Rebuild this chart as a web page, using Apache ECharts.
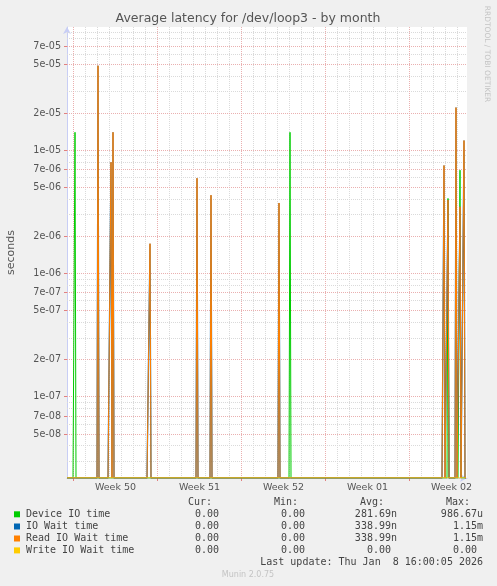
<!DOCTYPE html>
<html>
<head>
<meta charset="utf-8">
<script src="https://cdn.jsdelivr.net/npm/echarts@6/dist/echarts.min.js"></script>
<style>
  html, body { margin: 0; padding: 0; background: #f0f0f0; }
  #chart { width: 497px; height: 586px; }
</style>
</head>
<body>
<div id="chart"></div>
<script>
// ---- data (x = 2-hour sample index across the month window) ----
const SAMPLE_COUNT = 400;
const Y_MIN = 2.2e-8;   // bottom of the log axis; zero samples are drawn here (as rrdtool does)
const Y_MAX = 1e-4;

const deviceIoTime   = [[8, 1.4e-5], [223, 1.4e-5], [381, 4.07e-6], [393, 6.9e-6]];
const ioWaitTime     = [[31, 4.85e-5], [44, 8.0e-6], [46, 1.4e-5], [83, 1.75e-6], [130, 5.94e-6],
                        [144, 4.33e-6], [212, 3.74e-6], [377, 7.53e-6], [381, 3.95e-6],
                        [389, 2.22e-5], [393, 3.49e-6], [397, 1.2e-5]];
const readIoWaitTime = [[31, 4.85e-5], [44, 8.0e-6], [46, 1.4e-5], [83, 1.75e-6], [130, 5.94e-6],
                        [144, 4.33e-6], [212, 3.74e-6], [377, 7.53e-6], [381, 3.95e-6],
                        [389, 2.22e-5], [393, 3.49e-6], [397, 1.2e-5]];
const writeIoWaitTime = [];

const yMajorTicks = ['7e-05','5e-05','2e-05','1e-05','7e-06','5e-06','2e-06','1e-06',
                     '7e-07','5e-07','2e-07','1e-07','7e-08','5e-08'];
const yMinorTicks = [9e-5, 8e-5, 6e-5, 4e-5, 3e-5, 9e-6, 8e-6, 6e-6, 4e-6, 3e-6,
                     9e-7, 8e-7, 6e-7, 4e-7, 3e-7, 9e-8, 8e-8, 6e-8, 4e-8, 3e-8];
const weekLabels = ['Week 50', 'Week 51', 'Week 52', 'Week 01', 'Week 02'];

const legendNames  = ['Device IO time', 'IO Wait time', 'Read IO Wait time', 'Write IO Wait time'];
const legendColors = ['#00cc00', '#0066b3', '#ff8000', '#ffcc00'];
const curValues = ['0.00 ', '0.00 ', '0.00 ', '0.00 '];
const minValues = ['0.00 ', '0.00 ', '0.00 ', '0.00 '];
const avgValues = ['281.69n', '338.99n', '338.99n', '0.00 '];
const maxValues = ['986.67u', '1.15m', '1.15m', '0.00 '];
const lastUpdate = 'Last update: Thu Jan  8 16:00:05 2026';

// ---- layout constants ----
const FIRST_WEEK = 6.5;     // sample offset of first Monday
const SAMPLES_PER_DAY = 12;
const SAMPLES_PER_WEEK = 84;
const PLOT_LEFT = 67, PLOT_TOP = 27, PLOT_W = 400, PLOT_H = 451;

function buildSeries(spikes) {
  const m = new Map(spikes);
  const out = [];
  for (let i = 0; i < SAMPLE_COUNT; i++) {
    const v = m.has(i) ? m.get(i) : 0;
    out.push([i, v > 0 ? v : Y_MIN]);
  }
  return out;
}

const RED_GRID = '#eab0b0';
const GREY_GRID = '#dadada';
const weekCenters = weekLabels.map((_, k) => FIRST_WEEK + k * SAMPLES_PER_WEEK + SAMPLES_PER_WEEK / 2);

const chart = echarts.init(document.getElementById('chart'), null, { renderer: 'canvas' });

const lineSeries = (name, data, color, width) => ({
  name, type: 'line', data: buildSeries(data), showSymbol: false, symbol: 'none',
  lineStyle: { color, width }, itemStyle: { color }, animation: false, silent: true,
  emphasis: { disabled: true }, clip: true, z: 2
});

chart.setOption({
  backgroundColor: '#f0f0f0',
  animation: false,
  grid: { left: PLOT_LEFT, top: PLOT_TOP, width: PLOT_W, height: PLOT_H,
          backgroundColor: '#ffffff', show: true, borderWidth: 0 },
  xAxis: {
    type: 'value', min: 0, max: SAMPLE_COUNT,
    axisLine: { show: true, lineStyle: { color: '#c8cef5', width: 1 }, symbol: ['none', 'arrow'], symbolSize: [6, 7] },
    axisTick: { show: false },
    splitLine: { show: false },
    axisLabel: {
      show: true, customValues: weekCenters, margin: 5,
      formatter: v => { const i = weekCenters.findIndex(c => Math.abs(c - v) < 1e-6); return i >= 0 ? weekLabels[i] : ''; },
      color: '#555', fontSize: 9.5, fontFamily: 'DejaVu Sans'
    }
  },
  yAxis: {
    type: 'log', logBase: 10, min: Y_MIN, max: Y_MAX,
    axisLine: { show: true, lineStyle: { color: '#c8cef5', width: 1 }, symbol: ['none', 'arrow'], symbolSize: [6, 7] },
    axisTick: { show: false },
    splitLine: { show: false },
    axisLabel: { show: false }
  },
  series: [
    lineSeries('Device IO time', deviceIoTime, '#00cc00', 1),
    lineSeries('IO Wait time', ioWaitTime, '#0066b3', 1.3),
    lineSeries('Read IO Wait time', readIoWaitTime, '#ff8000', 1),
    lineSeries('Write IO Wait time', writeIoWaitTime, '#ffcc00', 1)
  ]
});

// ---- grid lines, tick labels and legend text (positions from the chart's own scales) ----
const crisp = p => Math.round(p - 0.5) + 0.5;
const MONO = '10px "DejaVu Sans Mono"';
const txt = (x, y, text, font, fill, align, extra) => Object.assign({
  type: 'text', x, y, silent: true, z: 3,
  style: { text, font, fill, align, verticalAlign: 'middle', textAlign: align, textVerticalAlign: 'middle' }
}, extra || {});
const gline = (x1, y1, x2, y2, color, dash) => ({
  type: 'line', silent: true, z: 1,
  shape: { x1, y1, x2, y2 },
  style: { stroke: color, lineWidth: 1, lineDash: dash || null }
});

const graphics = [];
const right = PLOT_LEFT + PLOT_W, bottom = PLOT_TOP + PLOT_H;
yMinorTicks.forEach(v => {
  const y = crisp(chart.convertToPixel({ yAxisIndex: 0 }, v));
  graphics.push(gline(PLOT_LEFT, y, right, y, GREY_GRID, [1, 1]));
});
for (let k = 0; FIRST_WEEK + k * SAMPLES_PER_DAY < SAMPLE_COUNT; k++) {
  const x = crisp(chart.convertToPixel({ xAxisIndex: 0 }, FIRST_WEEK + k * SAMPLES_PER_DAY));
  const major = k % 7 === 0;
  graphics.push(gline(x, PLOT_TOP, x, bottom, major ? RED_GRID : GREY_GRID, [1, 1]));
  if (major) graphics.push(gline(x, bottom, x, bottom + 3, '#e08080'));
}
yMajorTicks.forEach(t => {
  const y = crisp(chart.convertToPixel({ yAxisIndex: 0 }, Number(t)));
  graphics.push(gline(PLOT_LEFT, y, right, y, RED_GRID, [1, 1]));
  graphics.push(gline(PLOT_LEFT - 3, y, PLOT_LEFT, y, '#e08080'));
  graphics.push(txt(61, y, t, '9.6px "DejaVu Sans"', '#555', 'right'));
});

graphics.push(txt(248, 19, 'Average latency for /dev/loop3 - by month', '12.5px "DejaVu Sans"', '#555', 'center'));
graphics.push(txt(487, 54, 'RRDTOOL / TOBI OETIKER', '7.5px "DejaVu Sans"', '#c4c4c4', 'center', { rotation: -Math.PI / 2 }));
graphics.push(txt(11, 252.5, 'seconds', '11px "DejaVu Sans"', '#555', 'center', { rotation: Math.PI / 2 }));
graphics.push(txt(248, 575, 'Munin 2.0.75', '8px "DejaVu Sans"', '#c4c4c4', 'center'));
graphics.push(txt(483, 562.3, lastUpdate, MONO, '#444', 'right'));

const colEnds = [225, 311, 397, 483];
['Cur:', 'Min:', 'Avg:', 'Max:'].forEach((h, c) => graphics.push(txt(colEnds[c] - 13, 502.7, h, MONO, '#444', 'right')));
const rowY = [514.3, 526.5, 538.5, 550.4];
legendNames.forEach((name, r) => {
  graphics.push({ type: 'rect', silent: true, z: 3, shape: { x: 14, y: rowY[r] - 3, width: 6, height: 6 },
                  style: { fill: legendColors[r] } });
  graphics.push(txt(26, rowY[r], name, MONO, '#444', 'left'));
  [curValues, minValues, avgValues, maxValues].forEach((arr, c) => {
    graphics.push(txt(colEnds[c], rowY[r], arr[r], MONO, '#444', 'right'));
  });
});

chart.setOption({ graphic: graphics });
</script>
</body>
</html>
